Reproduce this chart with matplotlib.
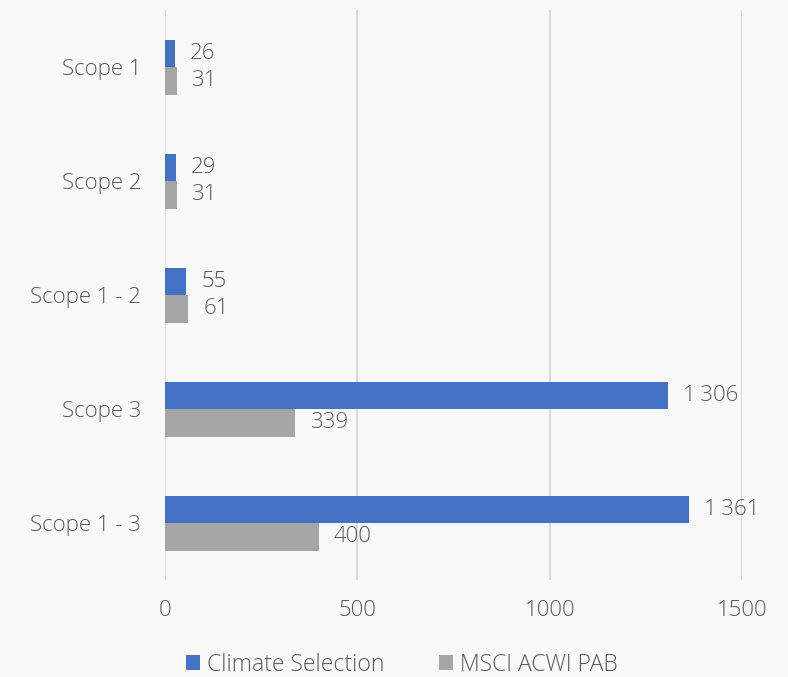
import matplotlib.pyplot as plt
import numpy as np

plt.rcParams['font.family'] = ['Open Sans', 'DejaVu Sans']

categories = ['Scope 1', 'Scope 2', 'Scope 1 - 2', 'Scope 3', 'Scope 1 - 3']
climate = [26, 29, 55, 1306, 1361]
msci = [31, 31, 61, 339, 400]
xticks = [0, 500, 1000, 1500]


def fmt(v):
    return f"{v:,}".replace(",", "\u2009")


fig = plt.figure(figsize=(7.88, 6.77), dpi=100, facecolor='#f9f9f9')
ax = fig.add_axes([0.209, 0.143, 0.733, 0.842])
ax.set_facecolor('#f9f9f9')

y = np.arange(len(categories))
h = 0.24
b1 = ax.barh(y - h / 2, climate, height=h, color='#4472C4', label='Climate Selection', zorder=3)
b2 = ax.barh(y + h / 2, msci, height=h, color='#A5A5A5', label='MSCI ACWI PAB', zorder=3)

txt = '#595959'
fs = 16
for bars, vals in ((b1, climate), (b2, msci)):
    for bar, v in zip(bars, vals):
        ax.annotate(fmt(v), (bar.get_width(), bar.get_y() + bar.get_height() / 2),
                    xytext=(11, 0), textcoords='offset points', va='center', ha='left',
                    fontsize=fs, color=txt, fontweight='light')

ax.set_ylim(len(categories) - 0.5, -0.5)
ax.set_xlim(0, 1500)
ax.set_yticks(y)
ax.set_yticklabels(categories, fontweight='light')
ax.set_xticks(xticks)
ax.set_xticklabels([str(t) for t in xticks], fontweight='light')
ax.tick_params(axis='both', length=0, labelsize=fs, labelcolor=txt)
ax.tick_params(axis='y', pad=17)
ax.tick_params(axis='x', pad=14)
ax.grid(axis='x', color='#d9d9d9', linewidth=1.5, zorder=0)
ax.set_axisbelow(True)
for s in ax.spines.values():
    s.set_visible(False)

leg = fig.legend(handles=[b1, b2], loc='lower center', bbox_to_anchor=(0.51, -0.03), ncol=2,
                 frameon=False, prop={'size': 16.5, 'weight': 'light'}, handlelength=0.6,
                 handleheight=0.6, handletextpad=0.3, columnspacing=2.4)
for t in leg.get_texts():
    t.set_color(txt)

fig.savefig('out.png', dpi=100, facecolor=fig.get_facecolor())
